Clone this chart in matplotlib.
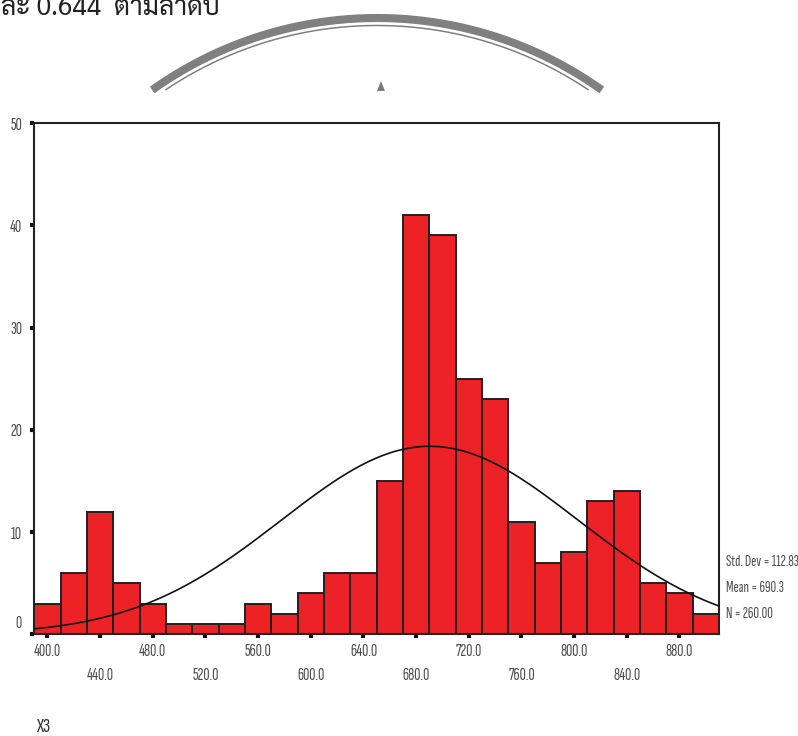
import numpy as np
import matplotlib
matplotlib.use("Agg")
import matplotlib.pyplot as plt
from matplotlib.patches import Polygon

# ---------------- data ----------------
bin_centers = [400, 420, 440, 460, 480, 500, 520, 540, 560, 580, 600, 620, 640,
               660, 680, 700, 720, 740, 760, 780, 800, 820, 840, 860, 880, 900]
counts = [3, 6, 12, 5, 3, 1, 1, 1, 3, 2, 4, 6, 6,
          15, 41, 39, 25, 23, 11, 7, 8, 13, 14, 5, 4, 2]
bin_width = 20
x_ticks = [400, 440, 480, 520, 560, 600, 640, 680, 720, 760, 800, 840, 880]
x_tick_labels = ["400.0", "440.0", "480.0", "520.0", "560.0", "600.0", "640.0",
                 "680.0", "720.0", "760.0", "800.0", "840.0", "880.0"]
y_ticks = [0, 10, 20, 30, 40, 50]
y_tick_labels = ["0", "10", "20", "30", "40", "50"]
std_dev = 112.83
mean = 690.3
n_total = 260
stats_lines = ["Std. Dev = 112.83", "Mean = 690.3", "N = 260.00"]
x_title = "X3"
header_text = "ละ 0.644  ตามลำดับ"

W, H = 798, 736
COND = ['Sofia Sans Extra Condensed', 'Saira Extra Condensed', 'Barlow Condensed',
        'DejaVu Sans']
GREY = '#4d4d4d'

fig = plt.figure(figsize=(W / 100, H / 100), dpi=100)

# ---------- decorative background layer (pixel coordinates) ----------
bg = fig.add_axes([0, 0, 1, 1], zorder=0)
bg.set_xlim(0, W)
bg.set_ylim(H, 0)
bg.axis('off')
cx, cy = 377, 405
for R, lw in [(387, 5.8), (379.5, 1.1)]:
    s_min = (cy - 90) / R
    t0 = np.arcsin(min(1, s_min))
    t = np.linspace(t0, np.pi - t0, 400)
    bg.plot(cx + R * np.cos(t), cy - R * np.sin(t), color='#808080', lw=lw,
            solid_capstyle='butt')
bg.add_patch(Polygon([[381, 81], [377, 91], [385, 91]], closed=True,
                     color='#7a7a7a', lw=0))

fig.text(1 / W, 1 - 15 / H, header_text, ha='left', va='baseline',
         fontsize=19, color='#222222', family=['Sarabun', 'DejaVu Sans'])

# ---------------- main axes ----------------
left, right, top, bottom = 34.3, 719.0, 123.0, 634.3
ax = fig.add_axes([left / W, 1 - bottom / H, (right - left) / W, (bottom - top) / H],
                  zorder=2)
ax.bar(bin_centers, counts, width=bin_width, color='#ED2226',
       edgecolor='#231f20', linewidth=1.4, zorder=2)

xs = np.linspace(390, 910, 300)
pdf = n_total * bin_width / (std_dev * np.sqrt(2 * np.pi)) * \
    np.exp(-0.5 * ((xs - mean) / std_dev) ** 2)
ax.plot(xs, pdf, color='#111111', lw=1.2, zorder=3)

ax.set_xlim(390, 910)
ax.set_ylim(0, 50)
for sp in ax.spines.values():
    sp.set_color('#222222')
    sp.set_linewidth(1.5)

ax.set_xticks(x_ticks)
ax.set_xticklabels([])
ax.set_yticks(y_ticks)
ax.set_yticklabels([])
ax.tick_params(axis='x', direction='out', length=3, width=3, color='#111111', pad=0)
ax.tick_params(axis='y', direction='out', length=3, width=3, color='#111111', pad=0)

xt = ax.get_xaxis_transform()
for i, (v, lab) in enumerate(zip(x_ticks, x_tick_labels)):
    ypix = 651.7 if i % 2 == 0 else 675.0
    ax.text(v, -(ypix - bottom) / (bottom - top), lab, transform=xt,
            ha='center', va='center', fontsize=12.5, color=GREY, family=COND)

yt = ax.get_yaxis_transform()
for v, lab in zip(y_ticks, y_tick_labels):
    yy = v + 1.1 if v == 0 else v - 0.2
    ax.text(-(left - 22) / (right - left), yy, lab, transform=yt,
            ha='right', va='center', fontsize=12.5, color=GREY, family=COND)

for i, line in enumerate(stats_lines):
    ypix = [561.7, 588.0, 614.5][i]
    fig.text(726 / W, 1 - ypix / H, line, ha='left', va='center',
             fontsize=11.2, color=GREY, family=COND)

fig.text(36 / W, 1 - 727 / H, x_title, ha='left', va='center',
         fontsize=15, color='#333333', family=COND)

fig.savefig("out.png", dpi=100)
